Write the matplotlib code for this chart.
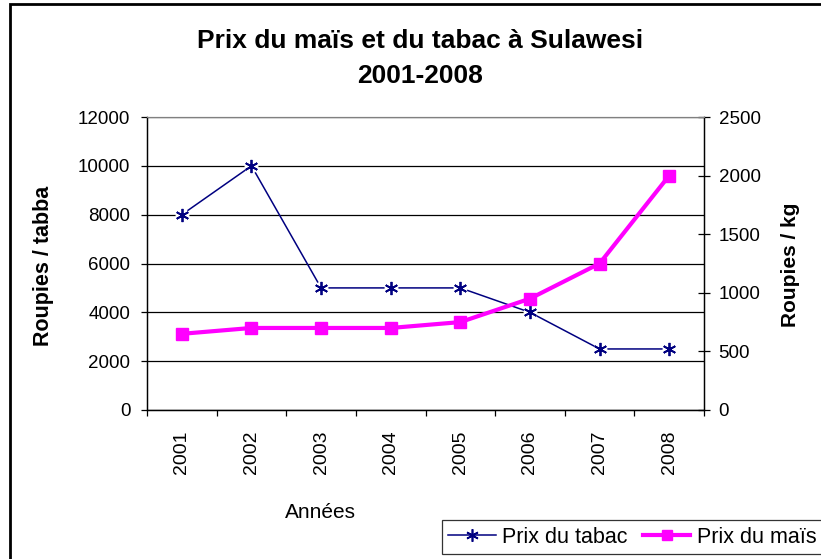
import numpy as np
import matplotlib.pyplot as plt
from matplotlib.patches import Rectangle

plt.rcParams['font.family'] = ['Liberation Sans', 'DejaVu Sans']

# Données
annees = ['2001', '2002', '2003', '2004', '2005', '2006', '2007', '2008']
prix_tabac = [8000, 10000, 5000, 5000, 5000, 4000, 2500, 2500]   # roupies / tabba
prix_mais = [650, 700, 700, 700, 750, 950, 1250, 2000]           # roupies / kg

x = np.arange(1, len(annees) + 1)

fig = plt.figure(figsize=(8.21, 5.59), dpi=100)
ax = fig.add_axes([147/821, 1 - 410/559, (704 - 147)/821, (410 - 117)/559])
ax2 = ax.twinx()

# Grille horizontale
ax.set_ylim(0, 12000)
ax.set_yticks(np.arange(0, 12001, 2000))
ax.yaxis.grid(True, color='black', linewidth=0.9)
ax.set_axisbelow(True)

# Prix du tabac (axe gauche)
navy = '#000080'
ax.plot(x, prix_tabac, color=navy, linewidth=1.1, zorder=2)
ax.plot(x, prix_tabac, linestyle='none', marker='o', markersize=10,
        markerfacecolor='white', markeredgecolor='none', zorder=3)
ax.plot(x, prix_tabac, linestyle='none', marker=(6, 2, 0), markersize=9.5,
        markeredgecolor=navy, markeredgewidth=1.3, zorder=4)

# Prix du maïs (axe droit)
ax2.set_ylim(0, 2500)
ax2.set_yticks(np.arange(0, 2501, 500))
ax2.plot(x, prix_mais, color='#FF00FF', linewidth=3, marker='s',
         markersize=8, zorder=3)

# Axe x par catégories
ax.set_xlim(0.5, len(annees) + 0.5)
ax.set_xticks(np.arange(0.5, len(annees) + 1, 1.0))
ax.set_xticklabels([])
ax.set_xticks(x, minor=True)
ax.set_xticklabels(annees, minor=True, rotation=90, fontsize=14)
ax.tick_params(axis='x', which='major', direction='out', length=4, width=0.9)
ax.tick_params(axis='x', which='minor', length=0, pad=15)

ax.tick_params(axis='y', direction='out', length=4, width=0.9, labelsize=13.5, pad=8)
ax2.tick_params(axis='y', direction='inout', length=9, width=0.9, labelsize=13.5, pad=6)

for a in (ax, ax2):
    a.spines['top'].set_color('#808080')
    a.spines['left'].set_linewidth(0.9)
    a.spines['right'].set_linewidth(0.9)
    a.spines['bottom'].set_linewidth(0.9)

# Textes
fig.text(420/821, 1 - 41/559, 'Prix du maïs et du tabac à Sulawesi',
         ha='center', va='center', fontsize=19, fontweight='bold')
fig.text(420/821, 1 - 76/559, '2001-2008',
         ha='center', va='center', fontsize=19, fontweight='bold')
fig.text(320/821, 1 - 512/559, 'Années', ha='center', va='center', fontsize=15)
fig.text(44/821, 1 - 266/559, 'Roupies / tabba', ha='center', va='center',
         rotation=90, fontsize=15.5, fontweight='bold')
fig.text(790/821, 1 - 265/559, 'Roupies / kg', ha='center', va='center',
         rotation=90, fontsize=15, fontweight='bold')

# Légende
h1, = ax.plot([], [], color=navy, linewidth=1.1, marker=(6, 2, 0),
              markersize=9, markeredgewidth=1.2)
h2, = ax.plot([], [], color='#FF00FF', linewidth=3, marker='s', markersize=7)
leg = fig.legend([h1, h2], ['Prix du tabac', 'Prix du maïs'], ncol=2,
                 loc='lower left', bbox_to_anchor=(442/821, 1 - 554/559),
                 fontsize=15.5, frameon=True, fancybox=False, handlelength=2.2,
                 handletextpad=0.3, columnspacing=0.7, borderpad=0.3,
                 borderaxespad=0)
leg.get_frame().set_edgecolor('black')
leg.get_frame().set_linewidth(0.9)

# Cadre du graphique
fig.patches.append(Rectangle((10/821, -0.05), 1.1, 1 - 4/559 + 0.05,
                             transform=fig.transFigure, fill=False,
                             edgecolor='black', linewidth=2))

fig.savefig('out.png', dpi=100)
